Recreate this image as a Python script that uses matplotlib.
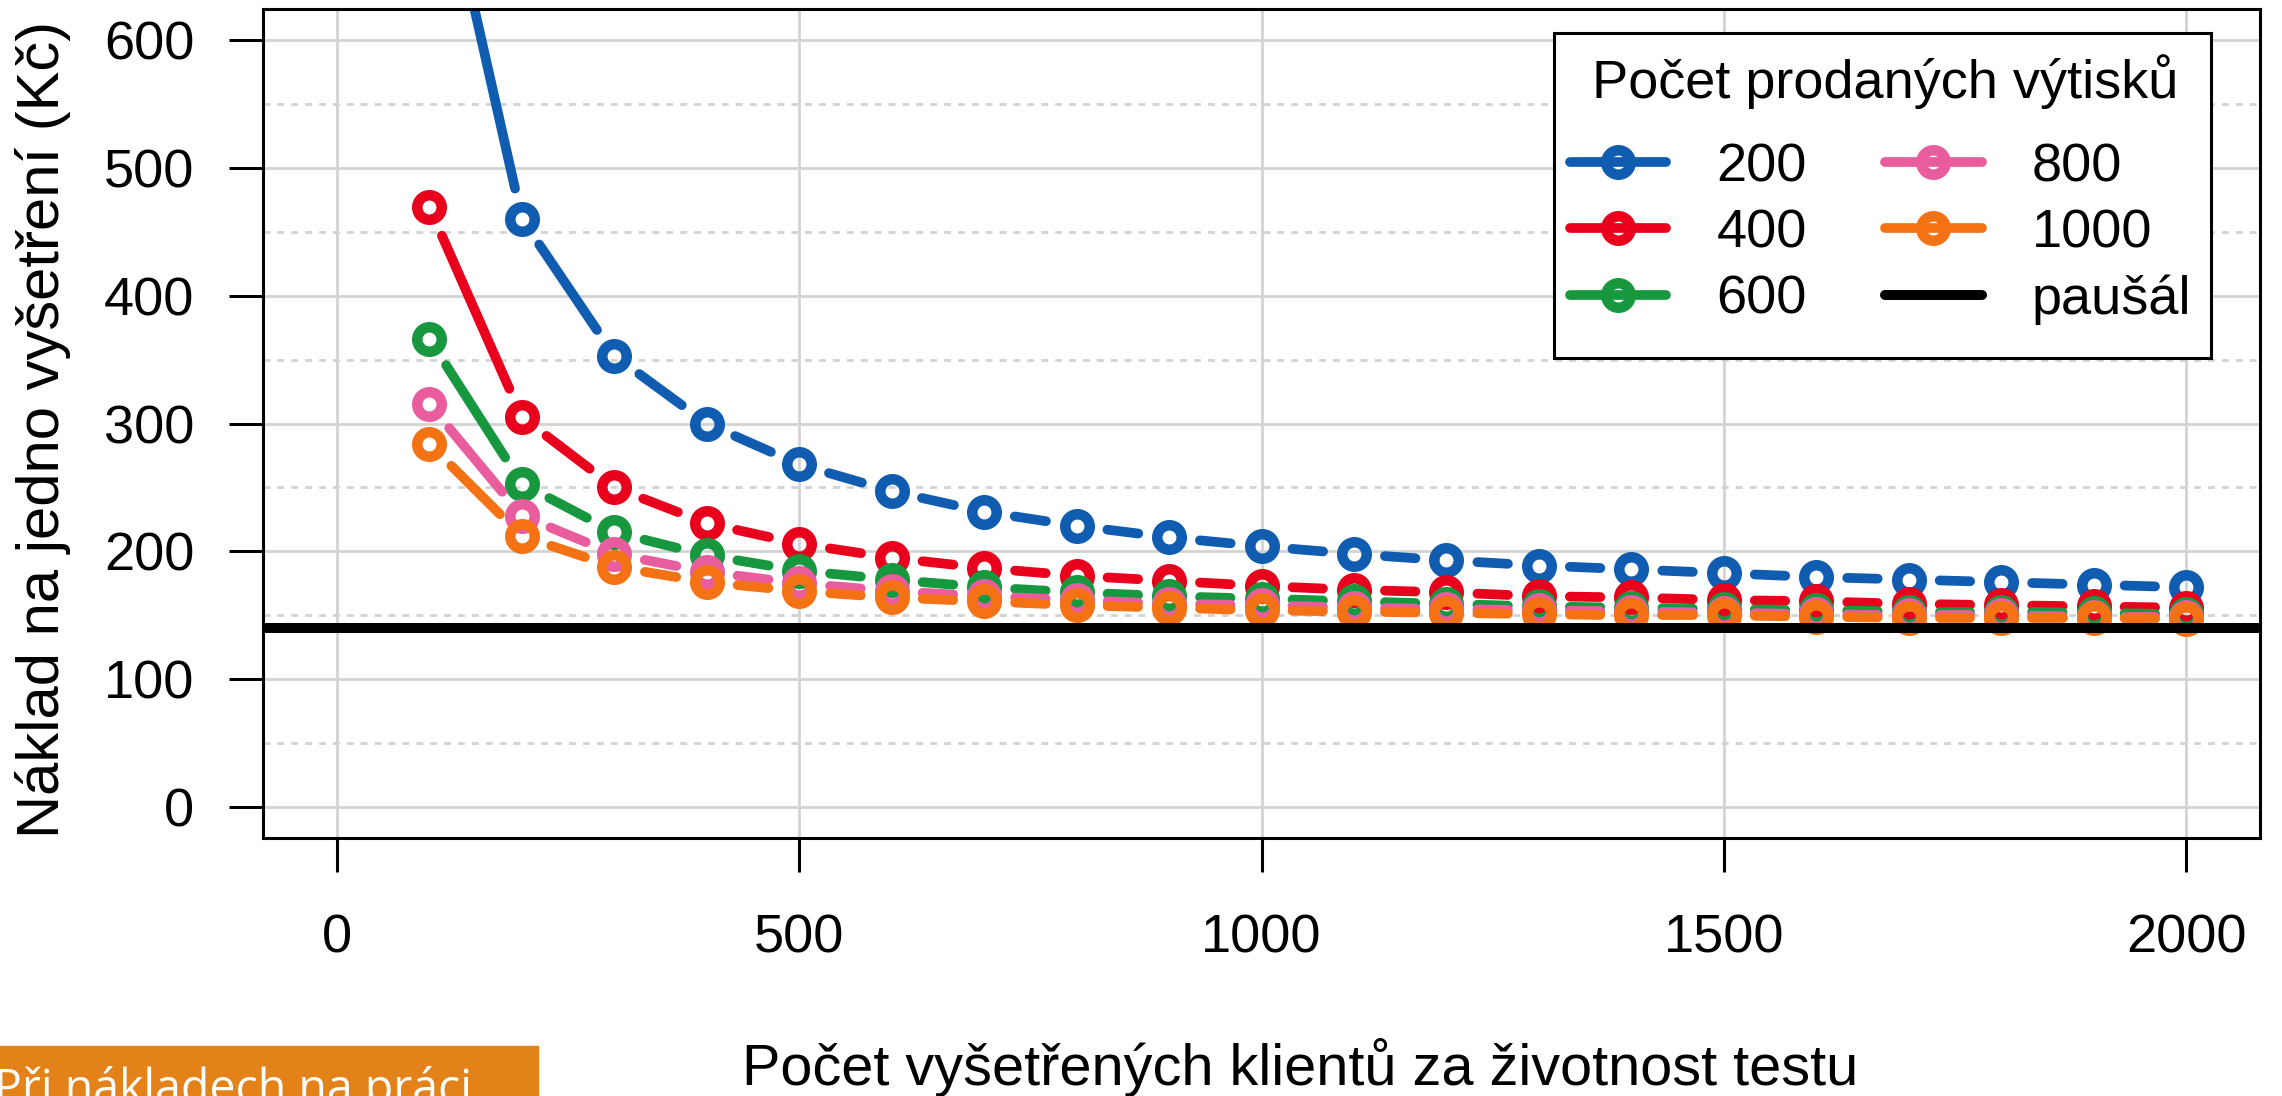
import numpy as np
import matplotlib.pyplot as plt
from matplotlib.collections import LineCollection
from matplotlib.lines import Line2D
from matplotlib.patches import Rectangle

plt.rcParams['font.family'] = ['Liberation Sans', 'DejaVu Sans']

# data
klienti = [100, 200, 300, 400, 500, 600, 700, 800, 900, 1000,
           1100, 1200, 1300, 1400, 1500, 1600, 1700, 1800, 1900, 2000]
naklad_200 = [780, 460, 353, 300, 268, 247, 231, 220, 211, 204,
              198, 193, 189, 186, 183, 180, 178, 176, 174, 172]
naklad_400 = [469, 305, 250, 222, 206, 195, 187, 181, 177, 173,
              170, 168, 165, 164, 162, 161, 159, 158, 157, 156]
naklad_600 = [366, 253, 215, 197, 185, 178, 172, 168, 165, 163,
              161, 159, 157, 156, 155, 154, 153, 153, 152, 151]
naklad_800 = [315, 228, 198, 184, 175, 169, 165, 162, 159, 158,
              156, 155, 154, 153, 152, 151, 150, 150, 149, 149]
naklad_1000 = [284, 212, 188, 176, 169, 164, 161, 158, 156, 154,
               153, 152, 151, 150, 150, 149, 148, 148, 148, 147]
pausal = 140

serie = [naklad_200, naklad_400, naklad_600, naklad_800, naklad_1000]
popisky = ['200', '400', '600', '800', '1000']
barvy = ['#0F5CB0', '#E8001C', '#17983F', '#E95C9E', '#F57214']

W, H = 2282, 1096
fig = plt.figure(figsize=(W / 100, H / 100), dpi=100)


def px(x, y):
    """pixel position (from top-left) -> figure fraction"""
    return x / W, 1 - y / H


ax_l, ax_r, ax_t, ax_b = 263, 2260, 9, 838
ax = fig.add_axes([ax_l / W, 1 - ax_b / H, (ax_r - ax_l) / W, (ax_b - ax_t) / H])
ax.set_xlim(-80, 2080)
ax.set_ylim(-24, 624)

# grid
for xv in range(0, 2001, 500):
    ax.axvline(xv, color='#D3D3D3', lw=2.0, zorder=0)
for yv in range(0, 601, 100):
    ax.axhline(yv, color='#D3D3D3', lw=2.0, zorder=0)
for yv in range(50, 600, 100):
    ax.axhline(yv, color='#D3D3D3', lw=2.0, ls=(0, (2.5, 2.5)), zorder=0)


def segmenty_b(x, y, gap):
    # R type="b": line pieces stop short of the points
    pts = ax.transData.transform(np.column_stack([x, y]))
    inv = ax.transData.inverted()
    segs = []
    for p0, p1 in zip(pts[:-1], pts[1:]):
        d = p1 - p0
        L = np.hypot(*d)
        if L <= 2 * gap:
            continue
        u = d / L
        segs.append(inv.transform(np.array([p0 + u * gap, p1 - u * gap])))
    return segs


lw_c = 7.0
ms, mew = 17.6, 7.6
for i, (vals, c) in enumerate(zip(serie, barvy)):
    lc = LineCollection(segmenty_b(klienti, vals, 31), colors=c, linewidths=lw_c,
                        capstyle='round', zorder=2 + i)
    ax.add_collection(lc)
    ax.plot(klienti, vals, ls='none', marker='o', ms=ms, mew=mew, mec=c,
            mfc='none', zorder=2 + i)

ax.axhline(pausal, color='black', lw=7.2, zorder=10)

ax.set_xticks(range(0, 2001, 500))
ax.set_yticks(range(0, 601, 100))
for s in ax.spines.values():
    s.set_linewidth(2.2)
ax.tick_params(axis='both', length=24.5, width=2.2, labelsize=39)
ax.tick_params(axis='y', pad=25)
ax.tick_params(axis='x', pad=30)

fig.text(*px(59, 429), 'Náklad na jedno vyšetření (Kč)', fontsize=43, rotation=90,
         ha='center', va='baseline', rotation_mode='anchor')
fig.text(*px(1300, 1085), 'Počet vyšetřených klientů za životnost testu', fontsize=41.5,
         ha='center', va='baseline')

# legend: frame and title drawn separately to get R-like spacing
ax.add_patch(Rectangle(px(1554, 358), (2211 - 1554) / W, (358 - 33) / H,
                       transform=fig.transFigure, facecolor='white',
                       edgecolor='black', lw=2.2, zorder=15, clip_on=False))
fig.text(*px(1885, 98), 'Počet prodaných výtisků', fontsize=39,
         ha='center', va='baseline', zorder=21)

handles = []
for c in barvy:
    handles.append(Line2D([], [], color=c, lw=lw_c, marker='o', ms=ms, mew=mew,
                          mfc='none', solid_capstyle='round'))
handles.insert(5, Line2D([], [], color='black', lw=7.2, solid_capstyle='round'))
labels = popisky + ['paušál']
leg = ax.legend(handles, labels, ncol=2, fontsize=39, loc='upper left',
                bbox_to_anchor=px(1570, 142), bbox_transform=fig.transFigure,
                numpoints=1, handlelength=1.78, handletextpad=0.92,
                columnspacing=1.45, labelspacing=0.3, borderpad=0,
                borderaxespad=0, frameon=False)
leg.set_zorder(20)

# orange box bottom left
fig.patches.append(Rectangle(px(-10, 1096), 548 / W, 50 / H, transform=fig.transFigure,
                             color='#E4821A', zorder=0))
fig.text(*px(-6, 1103), 'Při nákladech na práci', fontsize=33.5, color='white',
         family='Open Sans', ha='left', va='baseline')

fig.savefig('out.png', dpi=100)
